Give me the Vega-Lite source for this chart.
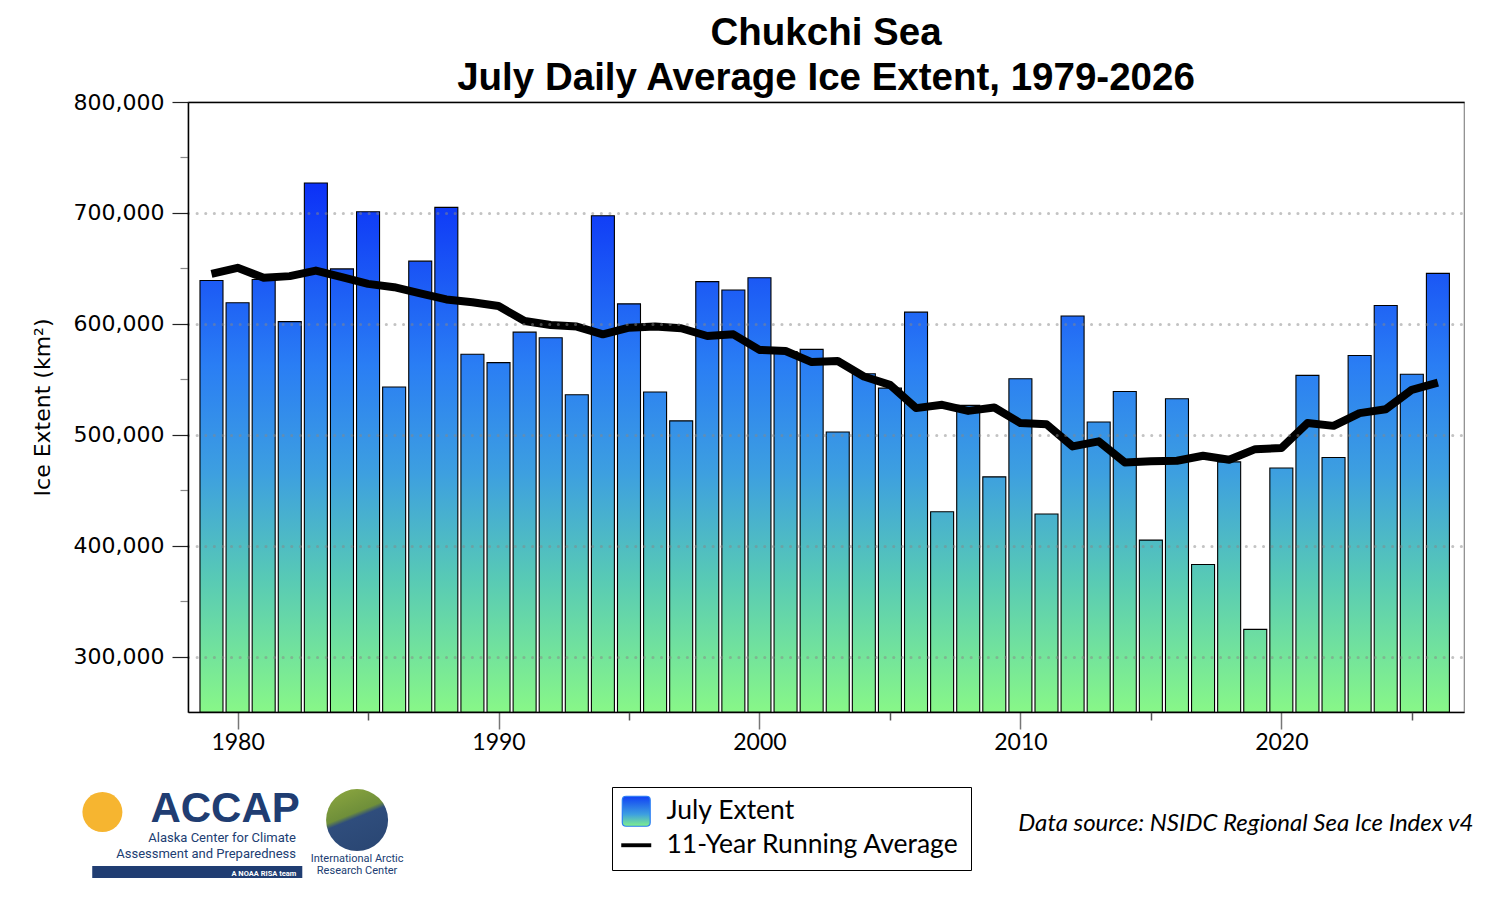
{
  "$schema": "https://vega.github.io/schema/vega-lite/v6.json",
  "width": 1276,
  "height": 610,
  "autosize": {"type": "none"},
  "padding": {"left": 188, "top": 102, "right": 36, "bottom": 188},
  "background": "white",
  "title": {
    "text": ["Chukchi Sea", "July Daily Average Ice Extent, 1979-2026"],
    "font": "Liberation Sans",
    "fontSize": 38.5,
    "fontWeight": "bold",
    "lineHeight": 45,
    "color": "#000",
    "anchor": "middle",
    "offset": -7
  },
  "config": {
    "view": {"stroke": "#888", "strokeWidth": 1.2}
  },
  "data": {
    "values": [
      {"year": 1979, "extent": 639000, "avg": 645000},
      {"year": 1980, "extent": 619000, "avg": 650500},
      {"year": 1981, "extent": 640000, "avg": 641500},
      {"year": 1982, "extent": 602000, "avg": 643000},
      {"year": 1983, "extent": 727000, "avg": 648000},
      {"year": 1984, "extent": 649500, "avg": 642000},
      {"year": 1985, "extent": 701000, "avg": 636000},
      {"year": 1986, "extent": 543000, "avg": 633000},
      {"year": 1987, "extent": 656500, "avg": 627500},
      {"year": 1988, "extent": 705000, "avg": 622000},
      {"year": 1989, "extent": 572500, "avg": 619500},
      {"year": 1990, "extent": 565000, "avg": 616000},
      {"year": 1991, "extent": 592500, "avg": 602500},
      {"year": 1992, "extent": 587500, "avg": 599000},
      {"year": 1993, "extent": 536000, "avg": 597500},
      {"year": 1994, "extent": 697500, "avg": 590500},
      {"year": 1995, "extent": 618000, "avg": 596500},
      {"year": 1996, "extent": 538500, "avg": 597500},
      {"year": 1997, "extent": 512500, "avg": 596000},
      {"year": 1998, "extent": 638000, "avg": 589000},
      {"year": 1999, "extent": 630500, "avg": 590500},
      {"year": 2000, "extent": 641500, "avg": 576500},
      {"year": 2001, "extent": 575000, "avg": 575500},
      {"year": 2002, "extent": 577000, "avg": 565500},
      {"year": 2003, "extent": 502500, "avg": 566500},
      {"year": 2004, "extent": 555000, "avg": 552500},
      {"year": 2005, "extent": 542000, "avg": 545000},
      {"year": 2006, "extent": 610500, "avg": 524000},
      {"year": 2007, "extent": 430500, "avg": 527000},
      {"year": 2008, "extent": 526500, "avg": 521500},
      {"year": 2009, "extent": 462000, "avg": 524500},
      {"year": 2010, "extent": 550500, "avg": 510500},
      {"year": 2011, "extent": 428500, "avg": 509500},
      {"year": 2012, "extent": 607000, "avg": 489500},
      {"year": 2013, "extent": 511500, "avg": 494000},
      {"year": 2014, "extent": 539000, "avg": 475000},
      {"year": 2015, "extent": 405000, "avg": 476000},
      {"year": 2016, "extent": 532500, "avg": 476500},
      {"year": 2017, "extent": 383000, "avg": 481000},
      {"year": 2018, "extent": 475500, "avg": 477500},
      {"year": 2019, "extent": 324500, "avg": 487000},
      {"year": 2020, "extent": 470000, "avg": 488000},
      {"year": 2021, "extent": 553500, "avg": 510500},
      {"year": 2022, "extent": 479500, "avg": 508000},
      {"year": 2023, "extent": 571500, "avg": 519500},
      {"year": 2024, "extent": 616500, "avg": 523000},
      {"year": 2025, "extent": 554500, "avg": 540500},
      {"year": 2026, "extent": 645500, "avg": 547000}
    ]
  },
  "layer": [
    {
      "mark": {
        "type": "bar",
        "size": 23,
        "stroke": "#000",
        "strokeWidth": 1.1,
        "fill": {"expr": "{gradient: 'linear', x1: 0, x2: 0, y1: (datum.extent - 730000) / (datum.extent - 250000), y2: 1, stops: [{offset: 0, color: '#0b2ff7'}, {offset: 0.35, color: '#2a7ef4'}, {offset: 0.55, color: '#3d9fe0'}, {offset: 0.75, color: '#58cab5'}, {offset: 1, color: '#88f788'}]}"}
      },
      "encoding": {
        "x": {
          "field": "year",
          "type": "quantitative",
          "scale": {"domain": [1978.1, 2027], "nice": false, "zero": false, "padding": 0},
          "axis": {
            "orient": "bottom",
            "values": [1980, 1990, 2000, 2010, 2020],
            "format": "d",
            "title": null,
            "grid": false,
            "tickSize": 17,
            "tickColor": "#777",
            "tickWidth": 1.5,
            "labelFont": "Lato",
            "labelFontSize": 23,
            "labelColor": "#000",
            "labelPadding": 2,
            "labelFlush": false,
            "domainColor": "#000",
            "domainWidth": 1.5
          }
        },
        "y": {
          "field": "extent",
          "type": "quantitative",
          "scale": {"domain": [250000, 800000], "nice": false, "zero": false},
          "axis": {
            "orient": "left",
            "values": [300000, 400000, 500000, 600000, 700000, 800000],
            "format": ",.0f",
            "title": "Ice Extent (km²)",
            "titleFont": "DejaVu Sans",
            "titleFontSize": 22,
            "titleFontWeight": "normal",
            "titleColor": "#000",
            "titleX": -134,
            "titleY": 305,
            "titleAngle": -90,
            "titleAlign": "center",
            "titleBaseline": "bottom",
            "tickSize": 16,
            "tickColor": "#222",
            "tickWidth": 1.2,
            "labelFont": "DejaVu Sans",
            "labelFontSize": 22,
            "labelColor": "#000",
            "labelPadding": 8,
            "labelFlush": false,
            "domainColor": "#000",
            "domainWidth": 1.5,
            "grid": true,
            "gridColor": "#888",
            "gridOpacity": {"condition": {"test": "datum.value >= 800000", "value": 0}, "value": 0.5},
            "gridDash": [0.1, 8.5],
            "gridCap": "round",
            "gridWidth": 3,
            "zindex": 1
          }
        },
        "y2": {"datum": 250000}
      }
    },
    {
      "mark": {"type": "line", "strokeWidth": 8, "strokeJoin": "round"},
      "encoding": {
        "x": {
          "field": "year",
          "type": "quantitative",
          "axis": {
            "orient": "bottom",
            "values": [1985, 1995, 2005, 2015, 2025],
            "title": null,
            "labels": false,
            "domain": false,
            "grid": false,
            "tickSize": 8,
            "tickColor": "#555",
            "tickWidth": 1.5
          }
        },
        "y": {
          "field": "avg",
          "type": "quantitative",
          "axis": {
            "orient": "left",
            "values": [350000, 450000, 550000, 650000, 750000],
            "title": null,
            "labels": false,
            "domain": false,
            "grid": false,
            "tickSize": 8,
            "tickColor": "#888",
            "tickWidth": 1.2
          }
        },
        "color": {
          "datum": "11-Year Running Average",
          "type": "nominal",
          "scale": {"domain": ["July Extent", "11-Year Running Average"], "range": ["#2a7ef4", "#000000"]},
          "legend": {
            "title": null,
            "orient": "none",
            "legendX": 424,
            "legendY": 685,
            "padding": 11,
            "strokeColor": "#000",
            "fillColor": "#fff",
            "labelFont": "Lato",
            "labelFontSize": 26.5,
            "labelColor": "#000",
            "labelOffset": 17,
            "labelLimit": 400,
            "rowPadding": 3,
            "symbolSize": 900,
            "encode": {
              "symbols": {
                "update": {
                  "shape": {"signal": "datum.value === 'July Extent' ? 'M-0.93,-0.75Q-0.93,-1,-0.68,-1L0.68,-1Q0.93,-1,0.93,-0.75L0.93,0.75Q0.93,1,0.68,1L-0.68,1Q-0.93,1,-0.93,0.75Z' : 'M-1,-0.13L1,-0.13L1,0.13L-1,0.13Z'"},
                  "fill": {"signal": "datum.value === 'July Extent' ? {gradient: 'linear', x1: 0, y1: 0, x2: 0, y2: 1, stops: [{offset: 0, color: '#1040f5'}, {offset: 0.6, color: '#3d9fe0'}, {offset: 1, color: '#80f08c'}]} : '#000'"},
                  "stroke": {"value": "#000"},
                  "strokeWidth": {"signal": "datum.value === 'July Extent' ? 1.2 : 0"},
                  "opacity": {"value": 1},
                  "fillOpacity": {"value": 1},
                  "size": {"value": 900}
                }
              }
            }
          }
        }
      }
    },
    {
      "data": {"values": [{}]},
      "mark": {"type": "text", "text": "Data source: NSIDC Regional Sea Ice Index v4", "font": "Lato", "fontStyle": "italic", "fontSize": 24, "align": "right", "baseline": "alphabetic", "color": "#000"},
      "encoding": {
        "x": {"datum": 2027.36, "type": "quantitative", "axis": {"orient": "top", "domain": true, "domainColor": "#000", "domainWidth": 1.5, "ticks": false, "labels": false, "grid": false, "title": null}},
        "y": {"datum": 142700, "type": "quantitative", "axis": null}
      }
    },
    {
      "data": {"values": [{}]},
      "mark": {"type": "point", "shape": "circle", "filled": true, "size": 1600, "color": "#f6b530", "opacity": 1},
      "encoding": {
        "x": {"datum": 1974.82, "type": "quantitative", "axis": null},
        "y": {"datum": 159800, "type": "quantitative", "axis": null}
      }
    },
    {
      "data": {"values": [{}]},
      "mark": {"type": "text", "text": "ACCAP", "font": "Liberation Sans", "fontWeight": "bold", "fontSize": 42, "align": "left", "baseline": "alphabetic", "color": "#203d72"},
      "encoding": {
        "x": {"datum": 1976.66, "type": "quantitative", "axis": null},
        "y": {"datum": 150800, "type": "quantitative", "axis": null}
      }
    },
    {
      "data": {"values": [{}]},
      "mark": {"type": "text", "text": "Alaska Center for Climate", "font": "Roboto", "fontSize": 13, "align": "left", "baseline": "alphabetic", "color": "#203d72"},
      "encoding": {
        "x": {"datum": 1976.58, "type": "quantitative", "axis": null},
        "y": {"datum": 132800, "type": "quantitative", "axis": null}
      }
    },
    {
      "data": {"values": [{}]},
      "mark": {"type": "text", "text": "Assessment and Preparedness", "font": "Roboto", "fontSize": 13, "align": "left", "baseline": "alphabetic", "color": "#203d72"},
      "encoding": {
        "x": {"datum": 1975.35, "type": "quantitative", "axis": null},
        "y": {"datum": 118400, "type": "quantitative", "axis": null}
      }
    },
    {
      "data": {"values": [{}]},
      "mark": {"type": "rect", "color": "#203d72"},
      "encoding": {
        "x": {"datum": 1974.43, "type": "quantitative", "axis": null},
        "x2": {"datum": 1982.48},
        "y": {"datum": 111150, "type": "quantitative", "axis": null},
        "y2": {"datum": 100350}
      }
    },
    {
      "data": {"values": [{}]},
      "mark": {"type": "text", "text": "A NOAA RISA team", "font": "Roboto", "fontWeight": "bold", "fontSize": 7.5, "align": "right", "baseline": "alphabetic", "color": "#ffffff"},
      "encoding": {
        "x": {"datum": 1982.25, "type": "quantitative", "axis": null},
        "y": {"datum": 102100, "type": "quantitative", "axis": null}
      }
    },
    {
      "data": {"values": [{}]},
      "mark": {
        "type": "point",
        "shape": "circle",
        "filled": true,
        "size": 3844,
        "opacity": 1,
        "fill": {"gradient": "linear", "x1": 0.2, "y1": 0, "x2": 0.6, "y2": 1, "stops": [{"offset": 0, "color": "#8aa53f"}, {"offset": 0.42, "color": "#6f8f3a"}, {"offset": 0.5, "color": "#2f4d7c"}, {"offset": 1, "color": "#2a4774"}]}
      },
      "encoding": {
        "x": {"datum": 1984.58, "type": "quantitative", "axis": null},
        "y": {"datum": 152600, "type": "quantitative", "axis": null}
      }
    },
    {
      "data": {"values": [{}]},
      "mark": {"type": "text", "text": "International Arctic", "font": "Roboto", "fontSize": 11, "align": "center", "baseline": "alphabetic", "color": "#203d72"},
      "encoding": {
        "x": {"datum": 1984.58, "type": "quantitative", "axis": null},
        "y": {"datum": 114800, "type": "quantitative", "axis": null}
      }
    },
    {
      "data": {"values": [{}]},
      "mark": {"type": "text", "text": "Research Center", "font": "Roboto", "fontSize": 11, "align": "center", "baseline": "alphabetic", "color": "#203d72"},
      "encoding": {
        "x": {"datum": 1984.58, "type": "quantitative", "axis": null},
        "y": {"datum": 103950, "type": "quantitative", "axis": null}
      }
    }
  ],
  "resolve": {"axis": {"x": "independent", "y": "independent"}}
}
